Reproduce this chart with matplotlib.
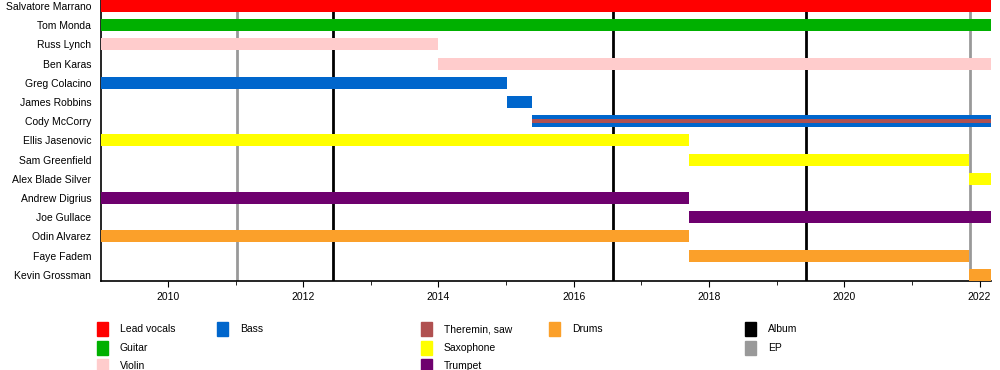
import matplotlib
matplotlib.use('Agg')
import matplotlib.pyplot as plt
from matplotlib.patches import Rectangle
from matplotlib.ticker import MultipleLocator

plt.rcParams['font.family'] = ['Liberation Sans', 'DejaVu Sans']

START = 2009.01
END = 2022.17

# band members, top to bottom
members = ["Salvatore Marrano", "Tom Monda", "Russ Lynch", "Ben Karas",
           "Greg Colacino", "James Robbins", "Cody McCorry", "Ellis Jasenovic",
           "Sam Greenfield", "Alex Blade Silver", "Andrew Digrius", "Joe Gullace",
           "Odin Alvarez", "Faye Fadem", "Kevin Grossman"]
starts = [START, START, START, 2013.99, START, 2015.01, 2015.38, START,
          2017.71, 2021.85, START, 2017.71, START, 2017.71, 2021.85]
ends = [END, END, 2013.99, END, 2015.01, 2015.38, END, 2017.71,
        2021.85, END, 2017.71, END, 2017.71, 2021.85, END]
roles = ["Lead vocals", "Guitar", "Violin", "Violin", "Bass", "Bass", "Bass",
         "Saxophone", "Saxophone", "Saxophone", "Trumpet", "Trumpet",
         "Drums", "Drums", "Drums"]
# secondary role drawn as a thin stripe inside the bar
extra_roles = {"Cody McCorry": "Theremin, saw"}

role_colors = {
    "Lead vocals": "#FF0000",
    "Guitar": "#00B000",
    "Violin": "#FFCCCC",
    "Bass": "#0066CC",
    "Theremin, saw": "#B05050",
    "Saxophone": "#FFFF00",
    "Trumpet": "#6E006E",
    "Drums": "#FBA02A",
}

albums = [2012.44, 2016.58, 2019.44]
eps = [2011.02, 2021.86]

fig = plt.figure(figsize=(10, 3.7), dpi=100)
ax = fig.add_axes([0.101, 1 - 281 / 370, 0.890, 281 / 370])

bar_h = 12 / 19.2
for i, (name, s, e, r) in enumerate(zip(members, starts, ends, roles)):
    ax.barh(i, e - s, left=s, height=bar_h, color=role_colors[r], zorder=3)
    if name in extra_roles:
        ax.barh(i, e - s, left=s, height=bar_h * 0.3,
                color=role_colors[extra_roles[name]], zorder=4)

for x in albums:
    ax.axvline(x, color="black", lw=2, zorder=1)
for x in eps:
    ax.axvline(x, color="#999999", lw=2, zorder=1)

ax.set_xlim(START, END)
ax.set_ylim(14.32, -0.31)
ax.set_yticks(range(len(members)))
ax.set_yticklabels(members, fontsize=7.5)
ax.tick_params(axis='y', length=0, pad=7)
ax.xaxis.set_major_locator(MultipleLocator(2))
ax.xaxis.set_minor_locator(MultipleLocator(1))
ax.tick_params(axis='x', which='major', labelsize=7.5, length=4, pad=4)
ax.tick_params(axis='x', which='minor', length=3)
ax.spines['top'].set_visible(False)
ax.spines['right'].set_visible(False)
ax.spines['left'].set_linewidth(1.2)
ax.spines['bottom'].set_linewidth(1.2)

# legend drawn by hand, in the same column layout as the reference
legend_items = [
    ("Lead vocals", role_colors["Lead vocals"], 97, 0),
    ("Guitar", role_colors["Guitar"], 97, 1),
    ("Violin", role_colors["Violin"], 97, 2),
    ("Bass", role_colors["Bass"], 217, 0),
    ("Theremin, saw", role_colors["Theremin, saw"], 421, 0),
    ("Saxophone", role_colors["Saxophone"], 421, 1),
    ("Trumpet", role_colors["Trumpet"], 421, 2),
    ("Drums", role_colors["Drums"], 549, 0),
    ("Album", "black", 745, 0),
    ("EP", "#999999", 745, 1),
]
for label, c, px, row in legend_items:
    py = 329 + row * 18.7
    fig.patches.append(Rectangle((px / 1000, 1 - (py + 7) / 370), 11 / 1000, 14 / 370,
                                 transform=fig.transFigure, color=c))
    fig.text((px + 23) / 1000, 1 - py / 370, label, fontsize=7.5, va='center')

fig.savefig("out.png", dpi=100)
